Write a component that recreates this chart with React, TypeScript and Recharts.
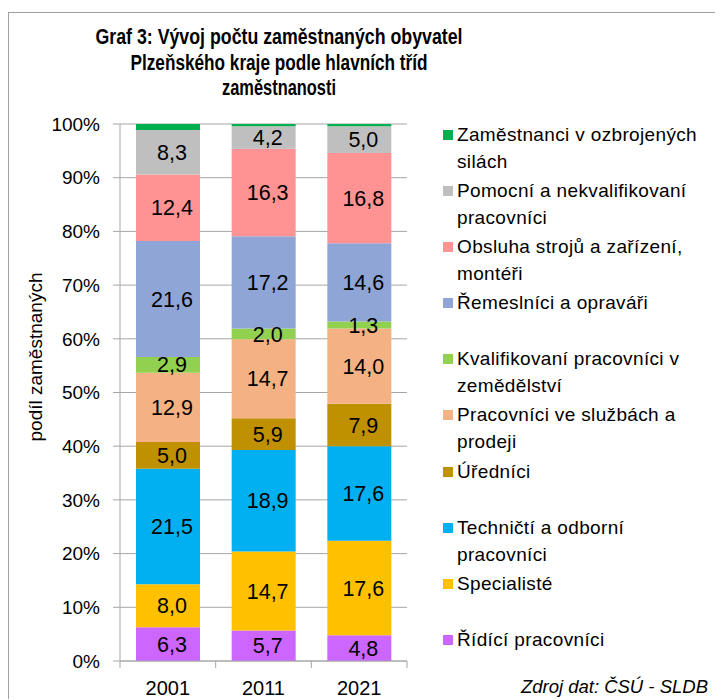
import { BarChart, Bar, XAxis, YAxis, CartesianGrid, LabelList, Legend } from 'recharts';

const years = ['2001', '2011', '2021'];
const ridici = [6.3, 5.7, 4.8];
const specialiste = [8.0, 14.7, 17.6];
const technicti = [21.5, 18.9, 17.6];
const urednici = [5.0, 5.9, 7.9];
const sluzby = [12.9, 14.7, 14.0];
const zemedelstvi = [2.9, 2.0, 1.3];
const remeslnici = [21.6, 17.2, 14.6];
const obsluha = [12.4, 16.3, 16.8];
const pomocni = [8.3, 4.2, 5.0];
const ozbrojene = [1.1, 0.4, 0.4];
const yTicks = [0, 10, 20, 30, 40, 50, 60, 70, 80, 90, 100];

// bottom of the stack first
const series = [
  { key: 'ridici', lines: ['Řídící pracovníci'], color: '#cc66ff', values: ridici, label: true },
  { key: 'specialiste', lines: ['Specialisté'], color: '#ffc000', values: specialiste, label: true },
  { key: 'technicti', lines: ['Techničtí a odborní', 'pracovníci'], color: '#00b0f0', values: technicti, label: true },
  { key: 'urednici', lines: ['Úředníci'], color: '#bf9000', values: urednici, label: true },
  { key: 'sluzby', lines: ['Pracovníci ve službách a', 'prodeji'], color: '#f4b183', values: sluzby, label: true },
  { key: 'zemedelstvi', lines: ['Kvalifikovaní pracovníci v', 'zemědělství'], color: '#92d050', values: zemedelstvi, label: true },
  { key: 'remeslnici', lines: ['Řemeslníci a opraváři'], color: '#8ea5d5', values: remeslnici, label: true },
  { key: 'obsluha', lines: ['Obsluha strojů a zařízení,', 'montéři'], color: '#ff9393', values: obsluha, label: true },
  { key: 'pomocni', lines: ['Pomocní a nekvalifikovaní', 'pracovníci'], color: '#bfbfbf', values: pomocni, label: true },
  { key: 'ozbrojene', lines: ['Zaměstnanci v ozbrojených', 'silách'], color: '#00b050', values: ozbrojene, label: false },
];

const data = years.map((year, i) => {
  const row: Record<string, string | number> = { year };
  series.forEach((s) => {
    row[s.key] = s.values[i];
  });
  return row;
});

const FONT = '"Liberation Sans", Arial, sans-serif';
const W = 714;
const H = 691;
const X_H = 38;
const M = { top: 116, right: 315, bottom: 0, left: 0 };
const Y_W = 112;
const HALF_BAND = (W - M.right - Y_W) / years.length / 2;
const GRID = '#a6a6a6';

const fmt = (v: any) => Number(v).toFixed(1).replace('.', ',');

function XTick(props: any) {
  const { x, y, payload, index } = props;
  return (
    <g>
      <line x1={x - HALF_BAND} x2={x - HALF_BAND} y1={y} y2={y + 7} stroke={GRID} />
      {index === years.length - 1 && <line x1={x + HALF_BAND} x2={x + HALF_BAND} y1={y} y2={y + 7} stroke={GRID} />}
      <text x={x} y={y + 34} textAnchor="middle" fontSize={20} fontFamily={FONT} fill="#000">
        {payload.value}
      </text>
    </g>
  );
}

function LegendBox() {
  return (
    <div style={{ fontFamily: FONT, fontSize: 19, letterSpacing: 0.35, color: '#000' }}>
      {[...series].reverse().map((s) => (
        <div key={s.key} style={{ height: 56.1, position: 'relative' }}>
          <div style={{ position: 'absolute', left: 0, top: 9, width: 10, height: 10, background: s.color }} />
          <div style={{ position: 'absolute', left: 14, top: 0, lineHeight: '27px', whiteSpace: 'nowrap' }}>
            {s.lines.map((l) => (
              <div key={l}>{l}</div>
            ))}
          </div>
        </div>
      ))}
    </div>
  );
}

export default function App() {
  return (
    <div style={{ position: 'relative', width: W, height: H, overflow: 'hidden', background: '#fff' }}>
      <BarChart width={W} height={H} data={data} margin={M} barSize={64}>
        <CartesianGrid horizontal vertical={false} stroke={GRID} />
        <XAxis
          dataKey="year"
          height={X_H}
          tickSize={0}
          tickMargin={0}
          axisLine={{ stroke: GRID }}
          tick={<XTick />}
          interval={0}
        />
        <YAxis
          width={Y_W}
          domain={[0, 100]}
          ticks={yTicks}
          interval={0}
          tickFormatter={(v) => `${v}%`}
          tickSize={7}
          tickMargin={13}
          axisLine={{ stroke: GRID }}
          tickLine={{ stroke: GRID }}
          tick={{ fill: '#000', fontSize: 19, fontFamily: FONT }}
        />
        <Legend
          layout="horizontal"
          align="center"
          verticalAlign="middle"
          width={275}
          content={() => <LegendBox />}
          wrapperStyle={{ left: 435, top: 113, width: 275, height: 570 }}
        />
        {series.map((s) => (
          <Bar key={s.key} dataKey={s.key} name={s.lines.join(' ')} stackId="a" fill={s.color} isAnimationActive={false}>
            {s.label && (
              <LabelList
                dataKey={s.key}
                position="center"
                formatter={fmt}
                fill="#000"
                fontSize={21.5}
                fontFamily={FONT}
                dx={4}
              />
            )}
          </Bar>
        ))}
      </BarChart>
      <svg width={W} height={H} style={{ position: 'absolute', left: 0, top: 0, pointerEvents: 'none' }}>
        <line x1={0} x2={W} y1={4.5} y2={4.5} stroke="#a0a0a0" />
        <line x1={0.5} x2={0.5} y1={4} y2={H} stroke="#a0a0a0" />
        <g fontFamily={'"Liberation Sans Narrow", "Liberation Sans", Arial, sans-serif'} fontWeight="bold" fontSize={22.5} textAnchor="middle" fill="#000">
          <text x={271} y={36} textLength={367} lengthAdjust="spacingAndGlyphs">Graf 3: Vývoj počtu zaměstnaných obyvatel</text>
          <text x={271} y={62} textLength={297} lengthAdjust="spacingAndGlyphs">Plzeňského kraje podle hlavních tříd</text>
          <text x={271} y={87} textLength={114} lengthAdjust="spacingAndGlyphs">zaměstnanosti</text>
        </g>
        <text x={27} y={349} transform="rotate(-90 27 349)" textAnchor="middle" dominantBaseline="central" fontSize={19} fontFamily={FONT} fill="#000">
          podíl zaměstnaných
        </text>
        <text x={700} y={685} textAnchor="end" fontSize={18.5} fontStyle="italic" fontFamily={FONT} fill="#000">
          Zdroj dat: ČSÚ - SLDB
        </text>
      </svg>
    </div>
  );
}
